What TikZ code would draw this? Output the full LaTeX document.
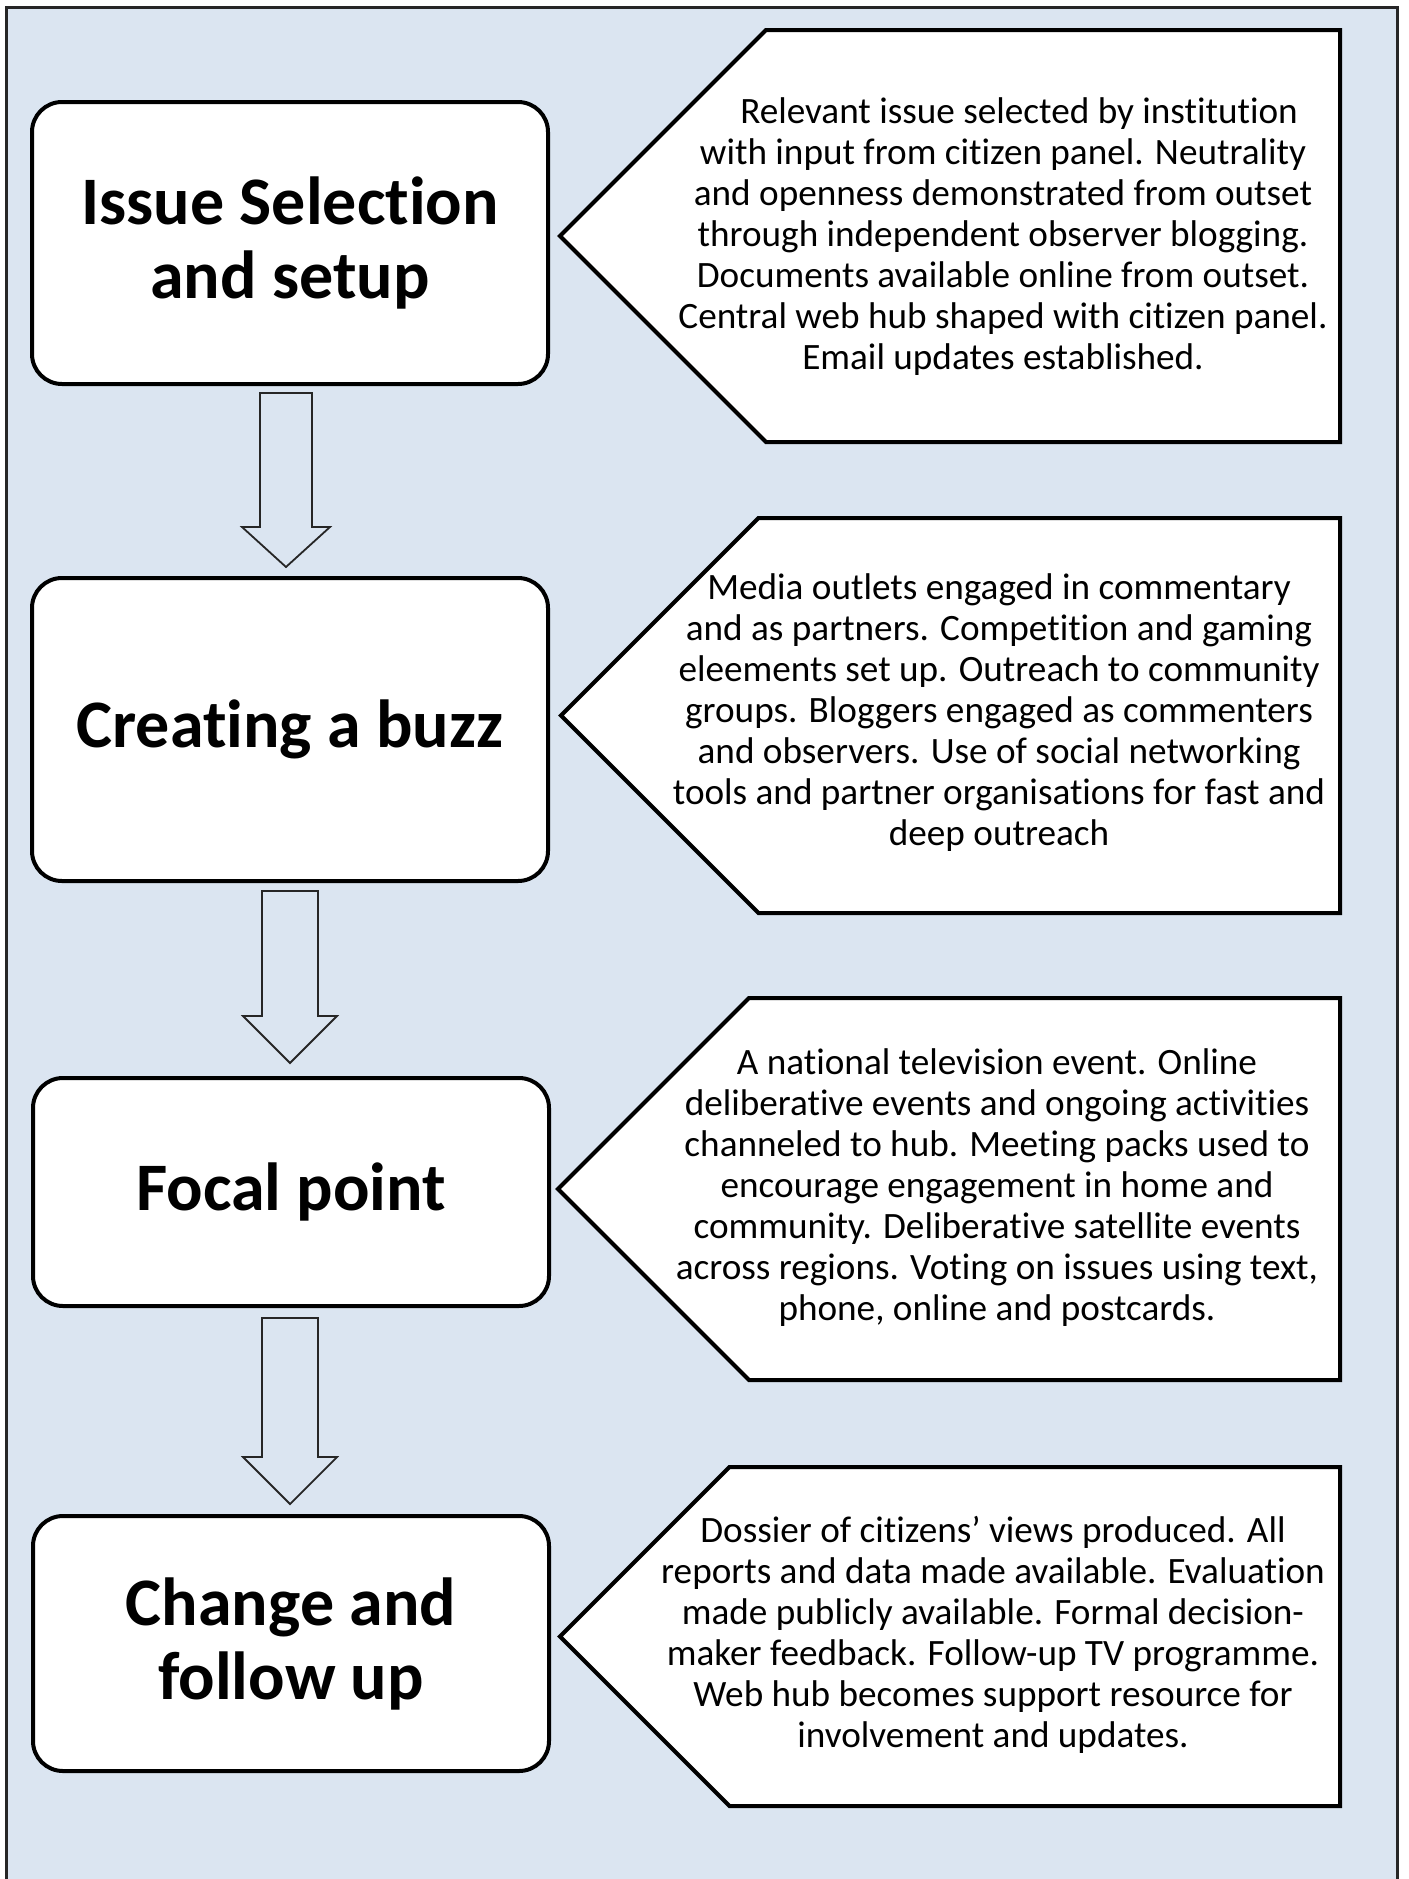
\documentclass[tikz,border=0pt]{standalone}
\usepackage{fontspec}
\setmainfont{Carlito}[Ligatures={NoCommon}]
\definecolor{bgblue}{HTML}{DBE5F1}
\tikzset{
  titlebox/.style={draw=black, line width=2pt, fill=white, rounded corners=15pt,
    minimum width=258pt, align=center, inner sep=0pt,
    font=\fontsize{34}{37}\selectfont\bfseries},
  pentabox/.style={draw=black, line width=2pt, fill=white, line join=miter},
  bodytext/.style={align=center, inner sep=0pt, font=\fontsize{18.6}{20.5}\selectfont},
  blockarrow/.style={draw=black!85, line width=0.9pt, fill=bgblue, line join=miter}
}
\newcommand{\blockarr}[6]{% x, ytop, yhead, ytip, shaft half, head half
  \draw[blockarrow] (#1-#5,#2) -- (#1+#5,#2) -- (#1+#5,#3) -- (#1+#6,#3) -- (#1,#4) -- (#1-#6,#3) -- (#1-#5,#3) -- cycle;}
\newcommand{\penta}[4]{% tipx, ytop, ybottom, name
  \draw[pentabox] ({#1},{(#2+#3)/2}) -- ({#1+(#3-#2)/2},#2) -- (1340,#2) -- (1340,#3) -- ({#1+(#3-#2)/2},#3) -- cycle;
  \coordinate (#4) at ({#1},{(#2+#3)/2});}
\begin{document}
\begin{tikzpicture}[x=0.5pt,y=-0.5pt]
\useasboundingbox (0,0) rectangle (1408,1879);
\fill[white] (0,0) rectangle (1408,1879);
\begin{scope}
\clip (0,0) rectangle (1408,1879);
\draw[fill=bgblue, draw=black!85, line width=1.5pt] (6,7) rectangle (1397,1900);
\end{scope}

% left title boxes
\node[titlebox, minimum height=141pt] (b1) at (290,243) {Issue Selection\\and setup};
\node[titlebox, minimum height=151.5pt] (b2) at (290,729.5) {Creating a buzz};
\node[titlebox, minimum height=114pt] (b3) at (291,1192) {Focal point};
\node[titlebox, minimum height=127.5pt] (b4) at (291,1643.5) {Change and\\follow up};

% block arrows
\blockarr{286}{393}{527}{567}{26}{44}
\blockarr{290}{891}{1016}{1063}{28}{47}
\blockarr{290}{1318}{1457}{1504}{28}{47}

% pentagons
\penta{560}{30}{442}{p1tip}
\penta{561}{518}{913}{p2tip}
\penta{558}{998}{1380}{p3tip}
\penta{560}{1467}{1806}{p4tip}

\node[bodytext] (t1) at (1003,237) {\hspace*{16pt}Relevant issue selected by institution\\with input from citizen panel. Neutrality\\and openness demonstrated from outset\\through independent observer blogging.\\Documents available online from outset.\\Central web hub shaped with citizen panel.\\Email updates established.};
\node[bodytext] (t2) at (999,713) {Media outlets engaged in commentary\\and as partners. Competition and gaming\\eleements set up. Outreach to community\\groups. Bloggers engaged as commenters\\and observers. Use of social networking\\tools and partner organisations for fast and\\deep outreach};
\node[bodytext] (t3) at (997,1188) {A national television event. Online\\deliberative events and ongoing activities\\channeled to hub. Meeting packs used to\\encourage engagement in home and\\community. Deliberative satellite events\\across regions. Voting on issues using text,\\phone, online and postcards.};
\node[bodytext] (t4) at (993,1635) {Dossier of citizens' views produced. All\\reports and data made available. Evaluation\\made publicly available. Formal decision-\\maker feedback. Follow-up TV programme.\\Web hub becomes support resource for\\involvement and updates.};
\end{tikzpicture}
\end{document}
